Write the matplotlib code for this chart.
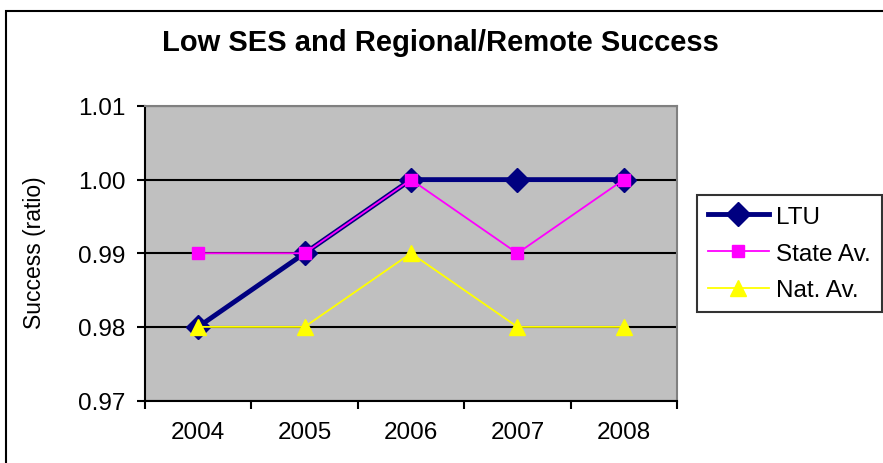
import matplotlib.pyplot as plt
from matplotlib.patches import Rectangle
from matplotlib.ticker import FixedLocator

plt.rcParams["font.family"] = ["Liberation Sans", "DejaVu Sans"]

years = ["2004", "2005", "2006", "2007", "2008"]
ltu = [0.98, 0.99, 1.00, 1.00, 1.00]
state_av = [0.99, 0.99, 1.00, 0.99, 1.00]
nat_av = [0.98, 0.98, 0.99, 0.98, 0.98]
y_ticks = [0.97, 0.98, 0.99, 1.00, 1.01]

fig = plt.figure(figsize=(8.83, 4.64), dpi=100)
# chart frame (only top and left edges show in the crop)
fig.add_artist(Rectangle((6 / 883, -0.1), 1.2, (464 - 12) / 464 + 0.1,
                         transform=fig.transFigure, fill=False,
                         edgecolor="black", linewidth=1.5))

ax = fig.add_axes([145 / 883, 1 - 401.5 / 464, (677 - 145) / 883, (401.5 - 107) / 464])
ax.set_facecolor("#C0C0C0")

x = list(range(len(years)))
ax.plot(x, ltu, color="#000080", linewidth=3.5, marker="D", markersize=12,
        label="LTU", zorder=3)
ax.plot(x, state_av, color="#FF00FF", linewidth=1.3, marker="s", markersize=9,
        label="State Av.", zorder=4)
ax.plot(x, nat_av, color="#FFFF00", linewidth=1.3, marker="^", markersize=11,
        label="Nat. Av.", zorder=5)

ax.set_xlim(-0.5, len(years) - 0.5)
ax.set_ylim(0.97, 1.01)
ax.set_yticks(y_ticks)
ax.set_yticklabels([f"{v:.2f}" for v in y_ticks])
ax.set_xticks(x)
ax.set_xticklabels(years)
ax.xaxis.set_minor_locator(FixedLocator([i - 0.5 for i in range(len(years) + 1)]))
ax.tick_params(axis="x", which="major", length=0, pad=15, labelsize=17.5)
ax.tick_params(axis="x", which="minor", length=6, width=1.5, direction="out")
ax.tick_params(axis="y", length=6, width=1.5, direction="out", pad=8, labelsize=17.5)
ax.yaxis.grid(True, color="black", linewidth=1.5)
ax.set_axisbelow(True)

for side in ("left", "bottom"):
    ax.spines[side].set_color("black")
    ax.spines[side].set_linewidth(1.5)
for side in ("top", "right"):
    ax.spines[side].set_color("#808080")
    ax.spines[side].set_linewidth(1.5)

ax.set_ylabel("Success (ratio)", fontsize=16.5)
ax.yaxis.set_label_coords(-0.186, 0.506)
fig.text(440 / 883, 1 - 43 / 464, "Low SES and Regional/Remote Success",
         ha="center", va="center", fontsize=21, fontweight="bold")

leg = fig.legend(loc="upper left", bbox_to_anchor=(697 / 883, 1 - 196 / 464),
                 fontsize=17.5, frameon=True, fancybox=False, handlelength=2.5,
                 borderpad=0.45, borderaxespad=0, labelspacing=0.6,
                 handletextpad=0.3)
leg.get_frame().set_edgecolor("black")
leg.get_frame().set_linewidth(1.5)

fig.savefig("out.png", dpi=100)
